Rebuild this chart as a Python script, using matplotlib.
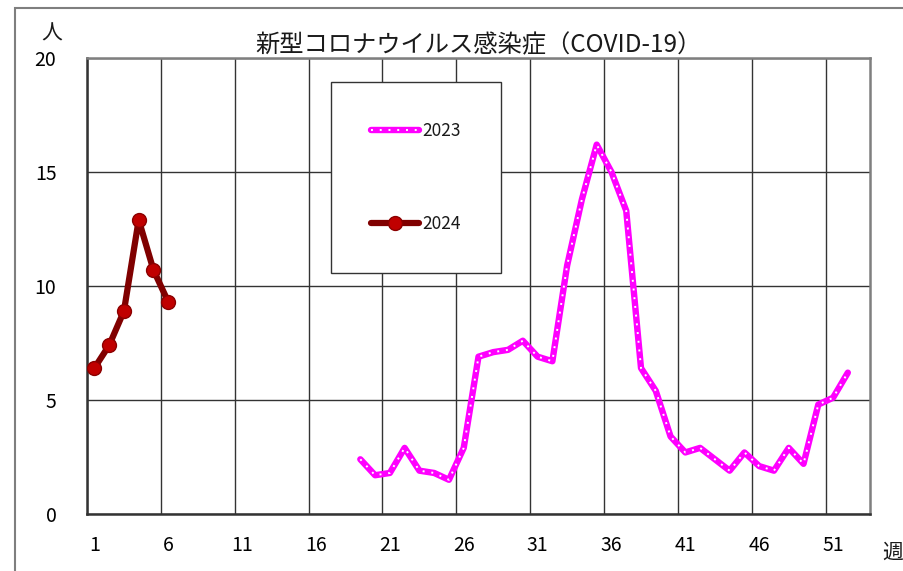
import matplotlib
matplotlib.use("Agg")
import matplotlib.pyplot as plt
from matplotlib.legend_handler import HandlerTuple
from matplotlib.patches import Rectangle
import numpy as np

# weekly counts per sentinel site
weeks_2023 = list(range(19, 53))
cases_2023 = [2.4, 1.7, 1.8, 2.9, 1.9, 1.8, 1.5, 2.9, 6.9, 7.1, 7.2, 7.6, 6.9, 6.7,
              10.9, 13.8, 16.2, 15.0, 13.3, 6.4, 5.4, 3.4, 2.7, 2.9, 2.4, 1.9, 2.7,
              2.1, 1.9, 2.9, 2.2, 4.8, 5.1, 6.2]
weeks_2024 = [1, 2, 3, 4, 5, 6]
cases_2024 = [6.4, 7.4, 8.9, 12.9, 10.7, 9.3]

week_ticks = [1, 6, 11, 16, 21, 26, 31, 36, 41, 46, 51]
y_ticks = [0, 5, 10, 15, 20]
title = "新型コロナウイルス感染症（COVID-19）"

plt.rcParams["font.family"] = ["Noto Sans CJK JP", "DejaVu Sans"]
plt.rcParams["text.color"] = "#1a1a1a"

W, H = 904, 571
fig = plt.figure(figsize=(W / 100, H / 100), dpi=100, facecolor="white")
ax = fig.add_axes([87 / W, 1 - 514 / H, (870 - 87) / W, (514 - 58) / H])

# outer chart frame (top and left edges visible)
fig.add_artist(Rectangle((15 / W, -0.1), 1.2, 1 - 8 / H + 0.1, transform=fig.transFigure,
                         fill=False, edgecolor="#7f7f7f", linewidth=1.5))

ax.set_xlim(0.5, 53.5)
ax.set_ylim(0, 20)
ax.set_yticks(y_ticks)
ax.set_xticks(week_ticks)
ax.set_xticks(np.arange(0.5, 51, 5), minor=True)
ax.tick_params(axis="x", which="both", length=0, labelsize=14, pad=15)
ax.tick_params(axis="y", length=0, labelsize=14, pad=22)
ax.grid(axis="x", which="minor", color="#333333", linewidth=1.0, zorder=0)
ax.grid(axis="y", which="major", color="#333333", linewidth=1.0, zorder=0)
for side in ["left", "bottom"]:
    ax.spines[side].set_color("#333333")
    ax.spines[side].set_linewidth(1.8)
for side in ["right", "top"]:
    ax.spines[side].set_color("#7f7f7f")
    ax.spines[side].set_linewidth(1.8)

l23a, = ax.plot(weeks_2023, cases_2023, color="#ff00ff", linewidth=4.6,
                solid_joinstyle="round", solid_capstyle="round", zorder=3)
l23b, = ax.plot(weeks_2023, cases_2023, color="white", linewidth=1.4,
                linestyle=(0, (1, 3.5)), zorder=4)
l24, = ax.plot(weeks_2024, cases_2024, color="#800000", linewidth=4.5,
               marker="o", markersize=10, markerfacecolor="#c00000",
               markeredgecolor="#8b0000", markeredgewidth=1.0,
               solid_joinstyle="round", solid_capstyle="round", zorder=5)

ax.set_title(title, fontsize=17.5, pad=4)
fig.text(52 / W, 1 - 34 / H, "人", fontsize=15, ha="center", va="center")
fig.text(893 / W, 1 - 553 / H, "週", fontsize=15, ha="center", va="center")

leg = ax.legend([(l23a, l23b), l24], ["2023", "2024"],
                handler_map={tuple: HandlerTuple(ndivide=1)},
                loc="upper left", bbox_to_anchor=(331 / W, 1 - 82 / H),
                bbox_transform=fig.transFigure, numpoints=1,
                fontsize=12.5, handlelength=2.75, handletextpad=0.2, borderpad=2.3,
                labelspacing=4.35, borderaxespad=0, fancybox=False, framealpha=1.0,
                edgecolor="#333333", facecolor="white")
leg.get_frame().set_linewidth(1.0)
leg.set_zorder(6)

fig.savefig("out.png", dpi=100, facecolor="white")
